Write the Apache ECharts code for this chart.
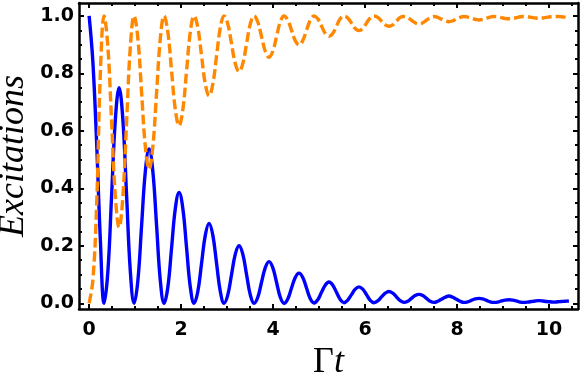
<!DOCTYPE html>
<html>
<head>
<meta charset="utf-8">
<script src="https://cdn.jsdelivr.net/npm/echarts@6/dist/echarts.min.js"></script>
<style>
html,body{margin:0;padding:0;background:#fff;}
#chart{width:581px;height:383px;}
</style>
</head>
<body>
<div id="chart"></div>
<script>
// sample times (eighths of a period)
var times = [0, 0.0815, 0.163, 0.2445, 0.326, 0.4075, 0.489, 0.5705, 0.652, 0.7335, 0.815, 0.8965, 0.978, 1.0595,
  1.141, 1.2225, 1.304, 1.3855, 1.467, 1.5485, 1.63, 1.7115, 1.793, 1.8745, 1.956, 2.0375, 2.119, 2.2005, 2.282,
  2.3635, 2.445, 2.5265, 2.608, 2.6895, 2.771, 2.8525, 2.934, 3.0155, 3.097, 3.1785, 3.26, 3.3415, 3.423, 3.5045,
  3.586, 3.6675, 3.749, 3.8305, 3.912, 3.9935, 4.075, 4.1565, 4.238, 4.3195, 4.401, 4.4825, 4.564, 4.6455, 4.727,
  4.8085, 4.89, 4.9715, 5.053, 5.1345, 5.216, 5.2975, 5.379, 5.4605, 5.542, 5.6235, 5.705, 5.7865, 5.868, 5.9495,
  6.031, 6.1125, 6.194, 6.2755, 6.357, 6.4385, 6.52, 6.6015, 6.683, 6.7645, 6.846, 6.9275, 7.009, 7.0905, 7.172,
  7.2535, 7.335, 7.4165, 7.498, 7.5795, 7.661, 7.7425, 7.824, 7.9055, 7.987, 8.0685, 8.15, 8.2315, 8.313, 8.3945,
  8.476, 8.5575, 8.639, 8.7205, 8.802, 8.8835, 8.965, 9.0465, 9.128, 9.2095, 9.291, 9.3725, 9.454, 9.5355, 9.617,
  9.6985, 9.78, 9.8615, 9.943, 10.0245, 10.106, 10.1875, 10.269, 10.3505, 10.432];

// solid blue curve
var blueVals = [
  1.0, 0.84, 0.56, 0.22,
  0, 0.11, 0.375, 0.64,
  0.75, 0.64, 0.375, 0.11,
  0, 0.078, 0.27, 0.459,
  0.537, 0.459, 0.27, 0.078,
  0, 0.056, 0.193, 0.33,
  0.386, 0.33, 0.193, 0.056,
  0, 0.041, 0.139, 0.237,
  0.278, 0.237, 0.139, 0.041,
  0, 0.029, 0.1, 0.171,
  0.2, 0.171, 0.1, 0.029,
  0, 0.021, 0.073, 0.124,
  0.145, 0.124, 0.073, 0.021,
  0, 0.015, 0.053, 0.09,
  0.105, 0.09, 0.053, 0.016,
  0.001, 0.012, 0.038, 0.063,
  0.074, 0.063, 0.038, 0.013,
  0.002, 0.011, 0.03, 0.049,
  0.057, 0.049, 0.03, 0.01,
  0.002, 0.008, 0.022, 0.035,
  0.041, 0.035, 0.022, 0.009,
  0.003, 0.007, 0.017, 0.027,
  0.031, 0.027, 0.017, 0.007,
  0.003, 0.007, 0.014, 0.021,
  0.025, 0.021, 0.014, 0.007,
  0.003, 0.005, 0.01, 0.015,
  0.017, 0.015, 0.01, 0.005,
  0.003, 0.004, 0.008, 0.011,
  0.012, 0.011, 0.008, 0.004,
  0.003, 0.004, 0.006, 0.008,
  0.009, 0.008, 0.006, 0.005,
  0.004, 0.005, 0.006, 0.007,
  0.008];

// dashed orange curve
var orangeVals = [
  0, 0.08, 0.34, 0.80,
  1.0, 0.893, 0.632, 0.371,
  0.264, 0.371, 0.632, 0.893,
  1.0, 0.922, 0.733, 0.545,
  0.467, 0.545, 0.733, 0.922,
  1.0, 0.944, 0.809, 0.674,
  0.618, 0.674, 0.809, 0.944,
  1.0, 0.959, 0.861, 0.763,
  0.722, 0.763, 0.861, 0.959,
  1.0, 0.972, 0.903, 0.834,
  0.806, 0.834, 0.903, 0.972,
  1.0, 0.979, 0.928, 0.877,
  0.856, 0.877, 0.928, 0.979,
  1.0, 0.985, 0.95, 0.914,
  0.899, 0.914, 0.95, 0.985,
  1.0, 0.99, 0.965, 0.939,
  0.929, 0.939, 0.965, 0.99,
  1.0, 0.993, 0.975, 0.956,
  0.949, 0.956, 0.975, 0.993,
  1.0, 0.995, 0.982, 0.969,
  0.964, 0.969, 0.982, 0.995,
  0.998, 0.994, 0.985, 0.976,
  0.972, 0.976, 0.985, 0.994,
  0.998, 0.995, 0.989, 0.983,
  0.98, 0.983, 0.989, 0.995,
  0.998, 0.996, 0.992, 0.988,
  0.986, 0.988, 0.992, 0.996,
  0.998, 0.997, 0.994, 0.991,
  0.99, 0.991, 0.994, 0.997,
  0.998, 0.997, 0.995, 0.993,
  0.992, 0.993, 0.995, 0.997,
  0.998, 0.998, 0.997, 0.996,
  0.995];

var xTicks = [0, 2, 4, 6, 8, 10];
var xMinorTicks = [0.5, 1, 1.5, 2.5, 3, 3.5, 4.5, 5, 5.5, 6.5, 7, 7.5, 8.5, 9, 9.5, 10.5];
var yTicks = [0, 0.2, 0.4, 0.6, 0.8, 1.0];
var yMinorTicks = [0.05, 0.1, 0.15, 0.25, 0.3, 0.35, 0.45, 0.5, 0.55, 0.65, 0.7, 0.75, 0.85, 0.9, 0.95];

var X_MIN = -0.22, X_MAX = 10.63, Y_MIN = -0.02, Y_MAX = 1.045;

function pairs(xs, ys) {
  var out = [];
  for (var i = 0; i < xs.length; i++) out.push([xs[i], ys[i]]);
  return out;
}

var chart = echarts.init(document.getElementById('chart'), null, {renderer: 'canvas'});

var labelFont = {color: '#000', fontFamily: 'DejaVu Sans', fontWeight: 'bold', fontSize: 19};

function xAxis(pos, ticks, len, labels, frame) {
  return {
    type: 'value', position: pos, min: X_MIN, max: X_MAX,
    axisLine: {show: frame, onZero: false, lineStyle: {color: '#000', width: 2.5}},
    axisTick: {show: true, inside: true, length: len, customValues: ticks, lineStyle: {color: '#000', width: 2}},
    axisLabel: labels ? Object.assign({show: true, margin: 12, customValues: ticks,
      formatter: function (v) { return String(v); }}, labelFont) : {show: false},
    splitLine: {show: false}
  };
}
function yAxis(pos, ticks, len, labels, frame) {
  return {
    type: 'value', position: pos, min: Y_MIN, max: Y_MAX,
    axisLine: {show: frame, onZero: false, lineStyle: {color: '#000', width: 2.5}},
    axisTick: {show: true, inside: true, length: len, customValues: ticks, lineStyle: {color: '#000', width: 2}},
    axisLabel: labels ? Object.assign({show: true, margin: 5, customValues: ticks,
      formatter: function (v) { return v.toFixed(1); }}, labelFont) : {show: false},
    splitLine: {show: false}
  };
}

var xs = [
  xAxis('bottom', xTicks, 5, true, true),
  xAxis('bottom', xMinorTicks, 3, false, false),
  xAxis('top', xTicks, 5, false, true),
  xAxis('top', xMinorTicks, 3, false, false)
];
xs[0].name = '{g|Γ}{t|t}';
xs[0].nameLocation = 'middle';
xs[0].nameGap = 36;
xs[0].nameTextStyle = {
  rich: {
    g: {fontFamily: 'Liberation Serif', fontSize: 36, color: '#000'},
    t: {fontFamily: 'Liberation Serif', fontStyle: 'italic', fontSize: 36, color: '#000'}
  }
};

var ys = [
  yAxis('left', yTicks, 5, true, true),
  yAxis('left', yMinorTicks, 3, false, false),
  yAxis('right', yTicks, 5, false, true),
  yAxis('right', yMinorTicks, 3, false, false)
];
ys[0].name = 'Excitations';
ys[0].nameLocation = 'middle';
ys[0].nameGap = 47;
ys[0].nameMoveOverlap = false;
ys[0].nameTextStyle = {fontFamily: 'Liberation Serif', fontStyle: 'italic', fontSize: 36, color: '#000'};

var option = {
  animation: false,
  backgroundColor: '#fff',
  grid: {left: 79, right: 3, top: 3, bottom: 74, containLabel: false, outerBoundsMode: 'none'},
  xAxis: xs,
  yAxis: ys,
  series: [
    {
      name: 'blue', type: 'line', xAxisIndex: 0, yAxisIndex: 0,
      data: pairs(times, blueVals), smooth: 0.4, showSymbol: false,
      lineStyle: {color: '#0000ff', width: 3.4}
    },
    {
      name: 'orange', type: 'line', xAxisIndex: 0, yAxisIndex: 0,
      data: pairs(times, orangeVals), smooth: 0.4, showSymbol: false,
      lineStyle: {color: '#ff8800', width: 3.4, type: [10, 4]}
    }
  ]
};
chart.setOption(option);
</script>
</body>
</html>
